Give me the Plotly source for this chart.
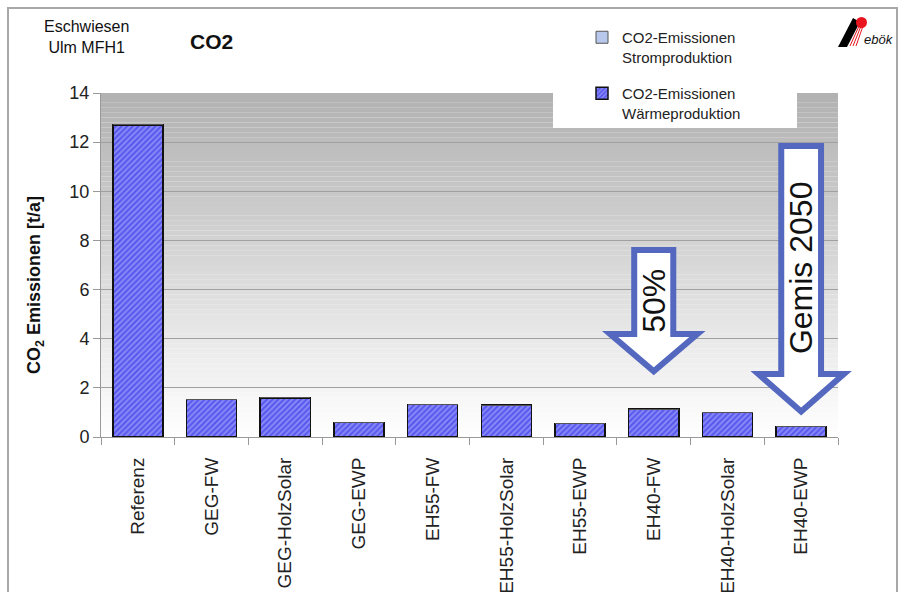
import plotly.graph_objects as go

# Scenario categories and annual CO2 emissions [t/a]
categories = ["Referenz", "GEG-FW", "GEG-HolzSolar", "GEG-EWP", "EH55-FW",
              "EH55-HolzSolar", "EH55-EWP", "EH40-FW", "EH40-HolzSolar", "EH40-EWP"]
co2_waerme = [12.7, 1.52, 1.59, 0.60, 1.33, 1.30, 0.55, 1.13, 0.99, 0.42]
co2_strom = [0, 0, 0, 0, 0, 0, 0, 0, 0, 0]
y_ticks = [0, 2, 4, 6, 8, 10, 12, 14]

W, H = 901, 592
L, R, T, B = 101, 838, 93, 437          # plot area in pixels
YMAX = 14
NCAT = len(categories)
FONT = "Liberation Sans, Arial, sans-serif"
ARROW = "#5468c0"


def px(x, y):
    """pixel position -> paper coordinates"""
    return (x - L) / (R - L), (B - y) / (B - T)


def dp(x, y):
    """data position (category index, value) -> paper coordinates"""
    return (x + 0.5) / NCAT, y / YMAX


xs = list(range(NCAT))

fig = go.Figure()
fig.add_trace(go.Bar(
    x=xs, y=co2_waerme, name="CO2-Emissionen<br>Wärmeproduktion",
    legendgroup="w", legendrank=2,
    marker=dict(color="#5656ee", line=dict(color="#111111", width=1.5),
                pattern=dict(shape="/", fgcolor="#bcbcff", size=4, solidity=0.5)),
))
fig.add_trace(go.Bar(
    x=xs, y=co2_strom, name="CO2-Emissionen<br>Stromproduktion",
    legendgroup="s", legendrank=1,
    marker=dict(color="#b8c8ec", line=dict(color="#555555", width=1)),
))

shapes = []
# vertical grey gradient behind the plot area
N = 70
for i in range(N):
    y0 = YMAX * i / N
    y1 = YMAX * (i + 1) / N
    t = (y0 + y1) / 2 / YMAX
    g = int(round(255 - 78 * t))
    shapes.append(dict(type="rect", xref="x", yref="y", x0=-0.5, x1=NCAT - 0.5, y0=y0, y1=y1,
                       fillcolor=f"rgb({g},{g},{g})", line=dict(width=0), layer="below"))

# white legend panel overlapping the top of the plot area
lx0 = (553 - L) / 73.7 - 0.5
lx1 = (797 - L) / 73.7 - 0.5
ly0 = (B - 128) / ((B - T) / YMAX)
shapes.append(dict(type="rect", xref="x", yref="y", x0=lx0, x1=lx1, y0=ly0, y1=15,
                   fillcolor="white", line=dict(width=0), layer="between"))


def block_arrow(cx, hw, yt, yb, hh, ytip):
    pts = [(cx - hw, yt), (cx + hw, yt), (cx + hw, yb), (cx + hh, yb),
           (cx, ytip), (cx - hh, yb), (cx - hw, yb)]
    s = ""
    for k, (a, b) in enumerate(pts):
        u, v = dp(a, b)
        s += ("M" if k == 0 else "L") + f"{u:.5f},{v:.5f} "
    return s + "Z"


shapes.append(dict(type="path", xref="paper", yref="paper",
                   path=block_arrow(7, 0.265, 7.61, 4.19, 0.593, 2.67),
                   fillcolor="white", line=dict(color=ARROW, width=6), layer="above"))
shapes.append(dict(type="path", xref="paper", yref="paper",
                   path=block_arrow(9, 0.27, 11.84, 2.56, 0.58, 1.04),
                   fillcolor="white", line=dict(color=ARROW, width=6), layer="above"))

# outer frame
fx0, fy0 = px(8, 8)
fx1, fy1 = px(897, 620)
shapes.append(dict(type="rect", xref="paper", yref="paper", x0=fx0, x1=fx1, y0=fy1, y1=fy0,
                   line=dict(color="#a8a8a8", width=2), fillcolor="rgba(0,0,0,0)"))


# logo
def ppath(points):
    s = ""
    for k, (a, b) in enumerate(points):
        u, v = px(a, b)
        s += ("M" if k == 0 else "L") + f"{u:.5f},{v:.5f} "
    return s + "Z"


shapes.append(dict(type="path", xref="paper", yref="paper",
                   path=ppath([(838, 47), (847, 47), (860, 22), (853, 18)]),
                   fillcolor="black", line=dict(width=0)))
cx0, cy0 = px(856, 17)
cx1, cy1 = px(867, 28)
shapes.append(dict(type="circle", xref="paper", yref="paper", x0=cx0, x1=cx1, y0=cy1, y1=cy0,
                   fillcolor="#e8141e", line=dict(width=0)))
for d in range(3):
    a0, b0 = px(850 + 3 * d, 46)
    a1, b1 = px(859 + 2 * d, 26)
    shapes.append(dict(type="line", xref="paper", yref="paper", x0=a0, y0=b0, x1=a1, y1=b1,
                       line=dict(color="#e8141e", width=1)))

annotations = []


def note(x, y, text, size, bold=False, angle=0, ref="paper"):
    annotations.append(dict(xref=ref, yref=ref, x=x, y=y, xanchor="center", yanchor="middle",
                            showarrow=False, textangle=angle, align="center",
                            text=f"<b>{text}</b>" if bold else text,
                            font=dict(family=FONT, size=size, color="#111111")))


note(*px(86, 37), "Eschwiesen<br>Ulm MFH1", 16)
note(*px(211, 42), "CO2", 21, bold=True)
note(*px(35, 285), "CO<sub>2</sub> Emissionen [t/a]", 18, bold=True, angle=-90)
note(*dp(7, 5.53), "50%", 32, angle=-90)
note(*dp(9, 6.88), "Gemis 2050", 32, angle=-90)
note(*px(879, 40), "<i>ebök</i>", 13)

lgx, lgy = px(582, 21)
fig.update_layout(
    width=W, height=H,
    margin=dict(l=L, r=W - R, t=T, b=H - B, pad=0, autoexpand=False),
    paper_bgcolor="white", plot_bgcolor="rgba(0,0,0,0)",
    barmode="stack", bargap=0.32,
    font=dict(family=FONT, color="#222222"),
    showlegend=True,
    legend=dict(x=lgx, y=lgy, xanchor="left", yanchor="top", bgcolor="rgba(0,0,0,0)",
                traceorder="grouped", tracegroupgap=14, valign="top",
                font=dict(family=FONT, size=15, color="#222222")),
    shapes=shapes, annotations=annotations,
    xaxis=dict(range=[-0.5, NCAT - 0.5], tickmode="array", tickvals=xs, ticktext=categories,
               tickangle=-90, ticks="", showline=True, linecolor="#999999", linewidth=1,
               showgrid=False, zeroline=False, ticklabelstandoff=12, automargin=False,
               tickfont=dict(family=FONT, size=19, color="#222222"),
               minor=dict(tickmode="array", tickvals=[i - 0.5 for i in range(NCAT + 1)],
                          ticks="outside", ticklen=7, tickcolor="#999999", showgrid=False)),
    yaxis=dict(range=[0, YMAX], tickmode="array", tickvals=y_ticks, ticks="outside", ticklen=7,
               tickcolor="#999999", showline=True, linecolor="#999999", linewidth=1,
               showgrid=True, gridcolor="#a0a0a0", gridwidth=1, zeroline=False, automargin=False,
               tickfont=dict(family=FONT, size=18, color="#222222")),
)

fig.write_html("out.html")
